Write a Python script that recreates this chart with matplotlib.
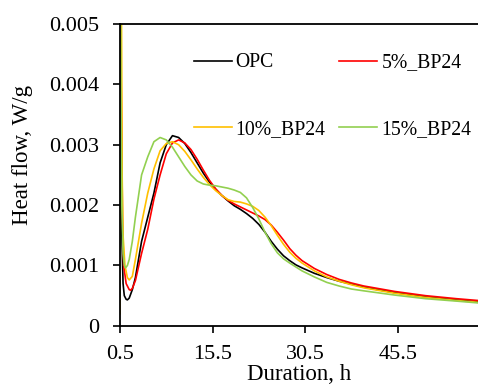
import matplotlib
matplotlib.use("Agg")
import matplotlib.pyplot as plt

plt.rcParams['font.family'] = ['Liberation Serif', 'DejaVu Serif']

# duration, h / heat flow, W/g
x_opc = [0.5, 0.55, 0.65, 0.8, 1.0, 1.2, 1.5, 1.7, 2.0, 2.5, 3, 4, 5, 6, 7, 8, 9, 10, 11, 12, 13, 14, 15,
         16, 17, 18, 19, 20, 21, 22, 23, 24, 25, 26, 27, 28, 29, 30, 32, 34, 36, 38, 40, 45, 50, 55, 58.5]
y_opc = [0.0005, 0.006, 0.004, 0.0015, 0.0007, 0.0005, 0.00044, 0.00043, 0.00046, 0.0006, 0.0008, 0.0014,
         0.0018, 0.0022, 0.0027, 0.003, 0.00315, 0.00312, 0.00302, 0.00287, 0.0027, 0.00253, 0.00238,
         0.00226, 0.00216, 0.00207, 0.00199, 0.00193, 0.00186, 0.00178, 0.00168, 0.00155, 0.0014, 0.00127,
         0.00116, 0.00108, 0.00101, 0.00096, 0.00087, 0.0008, 0.00074, 0.00069, 0.00064, 0.00055, 0.00048,
         0.00043, 0.0004]

x_bp5 = [0.5, 0.55, 0.7, 0.9, 1.1, 1.5, 2.0, 2.2, 2.5, 3, 4, 5, 6, 7, 8, 9, 10, 11, 12, 13, 14, 15,
         16, 17, 18, 19, 20, 21, 22, 23, 24, 25, 26, 27, 28, 29, 30, 32, 34, 36, 38, 40, 45, 50, 55, 58.5]
y_bp5 = [0.0005, 0.006, 0.004, 0.0018, 0.001, 0.0007, 0.0006, 0.00059, 0.00062, 0.00075, 0.0012, 0.0016,
         0.0021, 0.0025, 0.00285, 0.00303, 0.00308, 0.00303, 0.00292, 0.00276, 0.00258, 0.00241,
         0.00227, 0.00216, 0.00208, 0.00202, 0.00197, 0.00192, 0.00187, 0.00182, 0.00176, 0.00167, 0.00155,
         0.00142, 0.00128, 0.00117, 0.00108, 0.00095, 0.00085, 0.00077, 0.00071, 0.00066, 0.00057, 0.0005,
         0.00045, 0.00042]

x_bp10 = [0.5, 0.6, 0.75, 0.85, 1.0, 1.3, 1.7, 2.0, 2.5, 3, 4, 5, 6, 7, 8, 9, 10, 11, 12, 13, 14, 15,
          16, 17, 18, 19, 20, 21, 22, 23, 24, 25, 26, 27, 28, 29, 30, 32, 34, 36, 38, 40, 45, 50, 55, 58.5]
y_bp10 = [0.0002, 0.006, 0.005, 0.0025, 0.0015, 0.001, 0.0008, 0.00076, 0.00082, 0.0011, 0.0017, 0.0022,
          0.0026, 0.0029, 0.00302, 0.00305, 0.003, 0.00289, 0.00275, 0.0026, 0.00246, 0.00234,
          0.00224, 0.00216, 0.00209, 0.00206, 0.00205, 0.00202, 0.00198, 0.00191, 0.0018, 0.00166, 0.0015,
          0.00135, 0.00122, 0.00112, 0.00104, 0.00091, 0.00081, 0.00074, 0.00068, 0.00063, 0.00054, 0.00047,
          0.00042, 0.00039]

x_bp15 = [0.5, 0.55, 0.65, 0.8, 1.0, 1.2, 1.4, 1.7, 2.0, 2.5, 3, 4, 5, 6, 7, 8, 9, 10, 11, 12, 13, 14, 15,
          16, 17, 18, 19, 20, 21, 22, 23, 24, 25, 26, 27, 28, 30, 32, 34, 36, 38, 40, 45, 50, 55, 58.5]
y_bp15 = [0.0005, 0.006, 0.004, 0.002, 0.0012, 0.001, 0.00096, 0.001, 0.0011, 0.0014, 0.0018, 0.0025,
          0.0028, 0.00305, 0.00312, 0.00308, 0.00296, 0.0028, 0.00264, 0.0025, 0.0024, 0.00235, 0.00233,
          0.00232, 0.0023, 0.00228, 0.00225, 0.00221, 0.00212, 0.00196, 0.00177, 0.00155, 0.00136, 0.00121,
          0.00111, 0.00104, 0.00091, 0.00081, 0.00072, 0.00066, 0.00061, 0.00058, 0.00051, 0.00045,
          0.00041, 0.00038]

x_ticks = [0.5, 15.5, 30.5, 45.5]
y_ticks = [0, 0.001, 0.002, 0.003, 0.004, 0.005]
y_tick_labels = ['0', '0.001', '0.002', '0.003', '0.004', '0.005']

fig = plt.figure(figsize=(4.78, 3.87), dpi=100)
ax = fig.add_axes([0.251, 0.158, 0.749, 0.78])

l_opc, = ax.plot(x_opc, y_opc, color='black', lw=1.2, label='OPC')
l_5, = ax.plot(x_bp5, y_bp5, color='#FF0000', lw=1.2, label='5%_BP24')
l_10, = ax.plot(x_bp10, y_bp10, color='#FFC000', lw=1.2, label='10%_BP24')
l_15, = ax.plot(x_bp15, y_bp15, color='#92D050', lw=1.2, label='15%_BP24')

ax.set_xlim(0.5, 58.5)
ax.set_ylim(0, 0.005)
ax.set_xticks(x_ticks)
ax.set_xticklabels([str(t) for t in x_ticks])
ax.set_yticks(y_ticks)
ax.set_yticklabels(y_tick_labels)
ax.tick_params(labelsize=16, length=5, width=1.2, direction='out', pad=10)
ax.tick_params(axis='x', pad=8.5)
ax.spines['right'].set_visible(False)
for s in ['left', 'bottom', 'top']:
    ax.spines[s].set_linewidth(1.3)

ax.set_xlabel('Duration, h', fontsize=16.5, labelpad=0)
ax.set_ylabel('Heat flow, W/g', fontsize=16.5)
ax.yaxis.set_label_coords(-0.243, 0.566)

# row-wise order: OPC, 5% / 10%, 15%
ax.legend([l_opc, l_10, l_5, l_15], ['OPC', '10%_BP24', '5%_BP24', '15%_BP24'],
          ncol=2, frameon=False, fontsize=14.2, loc='upper left',
          bbox_to_anchor=(0.405, 0.862), bbox_transform=fig.transFigure,
          borderpad=0, borderaxespad=0, handlelength=1.93, handletextpad=0.2,
          columnspacing=0.7, labelspacing=2.4)

fig.savefig('out.png', dpi=100)
